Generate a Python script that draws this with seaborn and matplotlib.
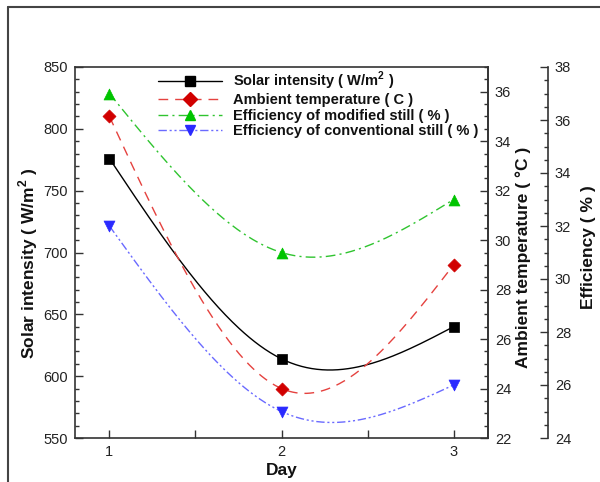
#!/usr/bin/env python3
"""Solar intensity, ambient temperature and still efficiency over three days."""

import matplotlib

matplotlib.use("Agg")

import matplotlib.pyplot as plt
import numpy as np
import seaborn as sns
from matplotlib.lines import Line2D
from matplotlib.ticker import FixedLocator, MultipleLocator

DAYS = [1, 2, 3]
SOLAR = [776, 614, 640]
AMBIENT = [35.0, 24.0, 29.0]
EFF_MODIFIED = [37.0, 31.0, 33.0]
EFF_CONVENTIONAL = [32.0, 25.0, 26.0]
LEGEND_LABELS = [
    "Solar intensity ( W/m$^\\mathbf{2}$ )",
    "Ambient temperature ( C )",
    "Efficiency of modified still ( % )",
    "Efficiency of conventional still ( % )",
]

TEXT = "#222222"
SPINE = "#333333"


def natural_spline(x, y, num=200):
    """Natural cubic spline through the points, used only to draw the curve."""
    x = np.asarray(x, float)
    y = np.asarray(y, float)
    n = len(x)
    h = np.diff(x)
    a = np.zeros((n, n))
    r = np.zeros(n)
    a[0, 0] = a[-1, -1] = 1
    for i in range(1, n - 1):
        a[i, i - 1] = h[i - 1]
        a[i, i] = 2 * (h[i - 1] + h[i])
        a[i, i + 1] = h[i]
        r[i] = 6 * ((y[i + 1] - y[i]) / h[i] - (y[i] - y[i - 1]) / h[i - 1])
    m = np.linalg.solve(a, r)
    xs = np.linspace(x[0], x[-1], num)
    k = np.clip(np.searchsorted(x, xs) - 1, 0, n - 2)
    left = x[k + 1] - xs
    right = xs - x[k]
    hk = h[k]
    ys = (
        (m[k] * left**3 + m[k + 1] * right**3) / (6 * hk)
        + (y[k] / hk - m[k] * hk / 6) * left
        + (y[k + 1] / hk - m[k + 1] * hk / 6) * right
    )
    return xs, ys


def draw_series(ax, y, line_color, marker_color, dash, marker, size):
    xs, ys = natural_spline(DAYS, y)
    sns.lineplot(x=xs, y=ys, ax=ax, color=line_color, linestyle=dash,
                 linewidth=1.0, sort=False, zorder=3)
    sns.scatterplot(x=DAYS, y=y, ax=ax, marker=marker, s=size, color=marker_color,
                    edgecolor=marker_color, linewidth=0.5, zorder=4)


def style_axis(axis):
    axis.tick_params(which="both", direction="in", width=1.0, colors=SPINE,
                     labelcolor=TEXT, labelsize=10.5, pad=5)
    axis.tick_params(which="major", length=5.5)
    axis.tick_params(which="minor", length=3)


sns.set_theme(style="ticks")
plt.rcParams["font.family"] = ["Liberation Sans", "DejaVu Sans"]
plt.rcParams["mathtext.fontset"] = "custom"
plt.rcParams["mathtext.bf"] = "Liberation Sans:bold"
plt.rcParams["mathtext.rm"] = "Liberation Sans"

fig = plt.figure(figsize=(6.0, 4.82), dpi=100)
ax = fig.add_axes([75 / 600, 44 / 482, 413 / 600, 371 / 482])
ax2 = ax.twinx()
ax3 = ax.twinx()

styles = [
    ("solar", ax, SOLAR, "#000000", "#000000", "-", "s", 52),
    ("ambient", ax2, AMBIENT, "#e5423f", "#d10000", (0, (7, 5)), "D", 44),
    ("modified", ax3, EFF_MODIFIED, "#2fc42f", "#00c400", (0, (7, 3, 1.5, 3)), "^", 62),
    ("conventional", ax3, EFF_CONVENTIONAL, "#6a6aff", "#2a2aff",
     (0, (6, 2, 1.5, 2, 1.5, 2)), "v", 62),
]
for _, axis, values, lc, mc, dash, marker, size in styles:
    draw_series(axis, values, lc, mc, dash, marker, size)

# left axis: solar intensity
ax.set_xlim(0.8, 3.2)
ax.set_ylim(550, 850)
ax.xaxis.set_major_locator(FixedLocator(DAYS))
ax.xaxis.set_minor_locator(FixedLocator([1.5, 2.5]))
ax.yaxis.set_major_locator(MultipleLocator(50))
ax.yaxis.set_minor_locator(MultipleLocator(10))
style_axis(ax)
ax.tick_params(axis="x", which="minor", length=5.5)
ax.tick_params(top=False, right=False, which="both")
for spine in ax.spines.values():
    spine.set_color(SPINE)
    spine.set_linewidth(1.2)

label_font = dict(fontsize=12.5, fontweight="bold", color="#111111")
ax.set_xlabel("Day", **label_font)
ax.xaxis.set_label_coords(0.5, -25 / 371)
ax.set_ylabel("Solar intensity ( W/m$^\\mathbf{2}$ )", **label_font)
ax.yaxis.set_label_coords(-47 / 413, (438 - 263) / 371)
ax.yaxis.label.set(ha="center", va="center", rotation_mode="anchor")

# inner right axis: ambient temperature
ax2.set_ylim(22, 37)
ax2.yaxis.set_major_locator(MultipleLocator(2))
ax2.yaxis.set_minor_locator(MultipleLocator(0.5))
style_axis(ax2)
for name, spine in ax2.spines.items():
    spine.set_visible(name == "right")
    spine.set_color(SPINE)
    spine.set_linewidth(1.2)
ax2.set_ylabel("Ambient temperature ( °C )", **label_font)
ax2.yaxis.set_label_coords((523 - 75) / 413, (438 - 257) / 371)
ax2.yaxis.label.set(ha="center", va="center", rotation_mode="anchor")

# outer right axis: efficiency
ax3.set_ylim(24, 38)
ax3.spines["right"].set_position(("axes", (548 - 75) / 413))
ax3.yaxis.set_major_locator(MultipleLocator(2))
ax3.yaxis.set_minor_locator(MultipleLocator(0.5))
style_axis(ax3)
for name, spine in ax3.spines.items():
    spine.set_visible(name == "right")
    spine.set_color(SPINE)
    spine.set_linewidth(1.2)
ax3.set_ylabel("Efficiency ( % )", **label_font)
ax3.yaxis.set_label_coords((588 - 75) / 413, (438 - 247) / 371)
ax3.yaxis.label.set(ha="center", va="center", rotation_mode="anchor")

handles = [
    Line2D([], [], color=lc, linestyle=dash, linewidth=1.0, marker=marker,
           markersize=np.sqrt(size), markerfacecolor=mc, markeredgecolor=mc)
    for _, _, _, lc, mc, dash, marker, size in styles
]
fig.legend(handles, LEGEND_LABELS, loc="upper left",
           bbox_to_anchor=(158 / 600, 1 - 70 / 482), frameon=False,
           prop=dict(weight="bold", size=10.5), handlelength=4.4,
           handletextpad=0.75, labelspacing=0.08, borderpad=0, borderaxespad=0,
           numpoints=1)
for text in fig.legends[0].get_texts():
    text.set_color("#111111")

# thin frame along the top and left of the picture
fig.add_artist(Line2D([8 / 600, 1], [1 - 7 / 482, 1 - 7 / 482],
                      transform=fig.transFigure, color="#444444", linewidth=1.5))
fig.add_artist(Line2D([8 / 600, 8 / 600], [0, 1 - 7 / 482],
                      transform=fig.transFigure, color="#444444", linewidth=1.5))

fig.savefig("out.png", dpi=100)
plt.close(fig)
